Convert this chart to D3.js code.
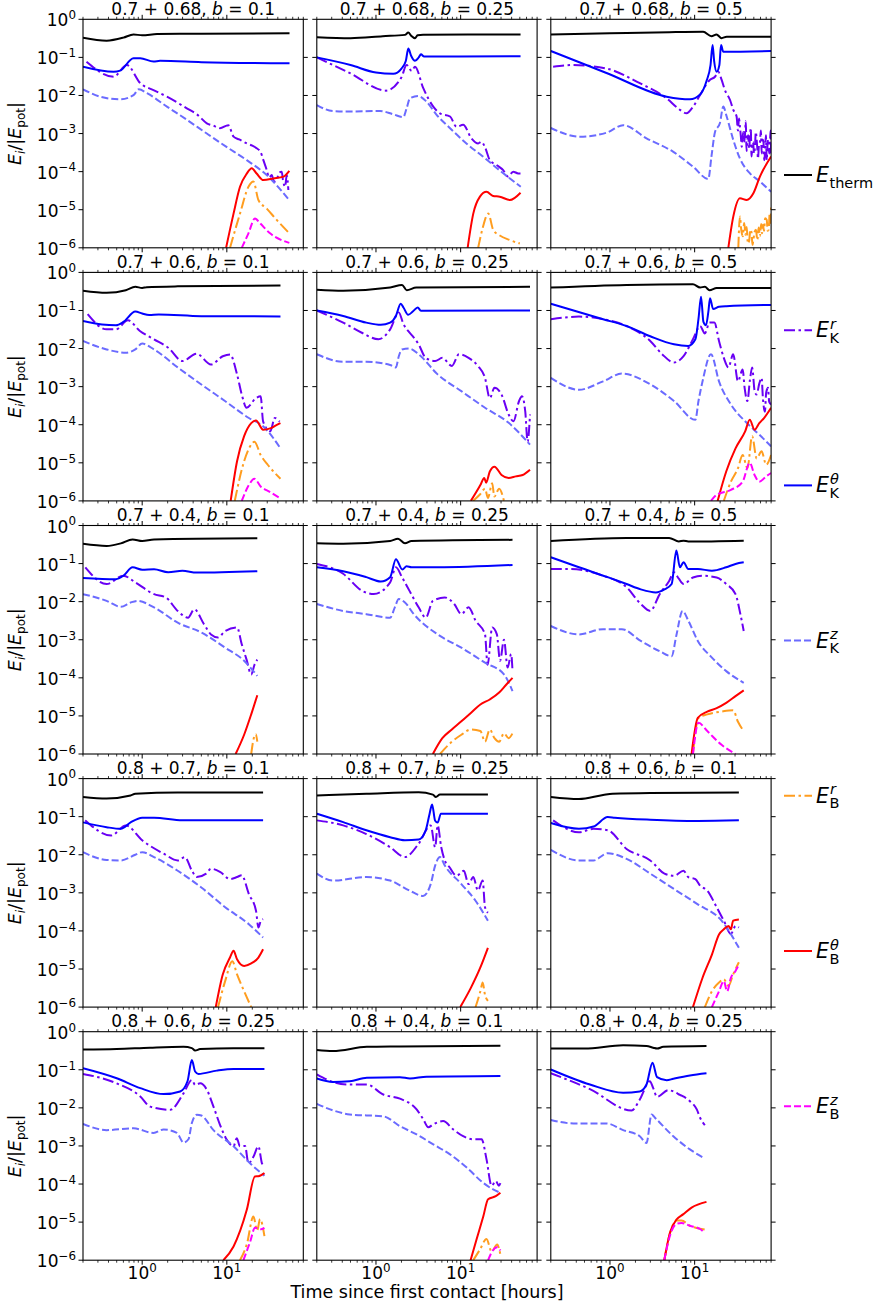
<!DOCTYPE html>
<html>
<head>
<meta charset="utf-8">
<script src="https://cdn.jsdelivr.net/npm/d3@7"></script>
<style>
  body { margin: 0; background: #fff; }
  text { font-family: "DejaVu Sans", sans-serif; fill: #000; }
</style>
</head>
<body>
<svg id="fig" width="879" height="1313"></svg>
<script>
// ---- data: [time in hours, E_i/|E_pot|] ----
const seriesKeys = ["therm", "Kr", "Kth", "Kz", "Br", "Bth", "Bz"];
const panelTitles = [
  ["0.7 + 0.68", "0.1"], ["0.7 + 0.68", "0.25"], ["0.7 + 0.68", "0.5"],
  ["0.7 + 0.6", "0.1"], ["0.7 + 0.6", "0.25"], ["0.7 + 0.6", "0.5"],
  ["0.7 + 0.4", "0.1"], ["0.7 + 0.4", "0.25"], ["0.7 + 0.4", "0.5"],
  ["0.8 + 0.7", "0.1"], ["0.8 + 0.7", "0.25"], ["0.8 + 0.6", "0.1"],
  ["0.8 + 0.6", "0.25"], ["0.8 + 0.4", "0.1"], ["0.8 + 0.4", "0.25"]
];
const xTicks = [1, 10];
const yTicks = [1, 1e-1, 1e-2, 1e-3, 1e-4, 1e-5, 1e-6];

// 0.7 + 0.68, b = 0.1
const p11 = {
  therm: [[0.2,0.33],[0.38,0.275],[0.6,0.33],[0.79,0.40],[1.0,0.38],[1.5,0.41],[5,0.42],[55,0.43]],
  Kr: [[0.22,0.077],[0.46,0.031],[0.66,0.063],[0.95,0.021],[1.36,0.0138],[1.96,0.0093],[3.37,0.0046],[4.5,0.0031],[5.8,0.00186],[7,0.0016],[8.3,0.00138],[10.4,0.00166],[12,0.00083],[14,0.0007],[17.2,0.00055],[20,0.00048],[22.5,0.00041],[25,0.00033],[27,0.0002],[29.6,0.00011],[31.5,0.00007],[33.9,0.000081],[36,0.000055],[38.8,0.00006],[41,0.00009],[44.5,0.0001],[46,0.00006],[48.7,0.00004],[51,0.00008],[53.3,0.000033]],
  Kth: [[0.2,0.057],[0.46,0.042],[0.55,0.045],[0.79,0.095],[0.95,0.095],[1.36,0.078],[1.63,0.081],[5,0.075],[55,0.07]],
  Kz: [[0.2,0.0145],[0.32,0.0093],[0.55,0.0079],[0.79,0.0102],[0.91,0.0145],[1.14,0.0115],[1.96,0.0051],[3.37,0.0023],[5.8,0.001],[9.7,0.00046],[17.2,0.0002],[29.6,0.000081],[54.7,0.0000178]],
  Br: [[10.9,1e-6],[14.3,7.9e-6],[18,4e-5],[20.6,5.5e-5],[23.6,1.8e-5],[29.6,1.07e-5],[38.8,5.4e-6],[54.7,2.4e-6]],
  Bth: [[9.8,1e-6],[12,7.9e-6],[14.3,4e-5],[17.2,8.9e-5],[19.7,1.23e-4],[22.5,8.9e-5],[27,6e-5],[35.5,6.6e-5],[46.6,7.4e-5],[54.7,1.05e-4]],
  Bz: [[15,1e-6],[18,2.4e-6],[21.5,5.9e-6],[24.7,4.4e-6],[32.4,2.4e-6],[54.7,1.35e-6]]
};
// 0.7 + 0.68, b = 0.25
const p12 = {
  therm: [[0.2,0.34],[0.5,0.32],[1.2,0.36],[2.2,0.39],[2.41,0.45],[2.6,0.37],[2.89,0.32],[3.1,0.38],[3.6,0.39],[51,0.40]],
  Kr: [[0.2,0.1],[0.5,0.038],[1.31,0.0134],[2.0,0.03],[2.3,0.063],[2.64,0.044],[2.89,0.057],[3.62,0.0155],[4.75,0.0051],[5.7,0.0034],[7.5,0.0028],[8.95,0.0015],[10.7,0.0017],[13.4,0.00075],[16.1,0.00055],[17.6,0.00061],[19.3,0.00045],[22.1,0.0002],[26.5,0.00015],[31.8,0.00011],[36.4,0.000074],[41.7,0.0001],[47.7,0.00009],[51.3,0.00009]],
  Kth: [[0.2,0.1],[0.5,0.063],[1.0,0.04],[1.6,0.037],[2.0,0.051],[2.25,0.08],[2.41,0.17],[2.6,0.11],[2.89,0.081],[3.2,0.1],[3.4,0.12],[3.7,0.105],[51,0.107]],
  Kz: [[0.2,0.0056],[0.31,0.0039],[0.49,0.0038],[1.12,0.0039],[1.6,0.0032],[2.1,0.0027],[2.3,0.0046],[2.52,0.0084],[3.15,0.0097],[3.95,0.0069],[5.2,0.0031],[7.5,0.00138],[11.7,0.00055],[18.3,0.00025],[28.6,0.00011],[51.3,0.00004]],
  Br: [[16.1,1e-6],[18,3e-6],[21.2,7.9e-6],[24.2,3e-6],[29,2.1e-6],[38,1.6e-6],[50,1.3e-6]],
  Bth: [[12.1,1e-6],[14.1,7.9e-6],[16.9,2.2e-5],[20.2,2.95e-5],[24.2,2.3e-5],[29,2.2e-5],[38.1,1.8e-5],[51,2.8e-5]],
  Bz: []
};
// 0.7 + 0.68, b = 0.5
const p13 = {
  therm: [[0.2,0.40],[1,0.43],[5,0.46],[12.6,0.47],[15.8,0.36],[18.1,0.40],[20.8,0.32],[23.9,0.35],[80,0.35]],
  Kr: [[0.213,0.057],[0.367,0.063],[0.91,0.051],[2.25,0.021],[4.67,0.0084],[6.7,0.0042],[8.0,0.0034],[9.6,0.0051],[11.6,0.0103],[15.2,0.026],[17.4,0.031],[19.0,0.042],[20.8,0.026],[22.8,0.0138],[26.2,0.0076],[28.6,0.0042],[31.3,0.0028],[32.5,0.0012],[33.4,0.0025],[34.3,0.0015],[35.2,0.0008],[36,0.00045],[37.5,0.0011],[38.4,0.0006],[39.4,0.001],[40.2,0.0021],[41,0.00035],[42,0.0007],[43,0.0009],[44,0.0004],[45,0.0008],[46,0.0014],[47,0.00025],[48,0.0005],[49,0.0006],[50.3,0.0003],[51.6,0.00045],[52.8,0.0011],[54,0.0007],[55,0.0004],[56,0.00022],[57.5,0.0005],[59,0.00058],[60.5,0.0012],[62,0.0003],[63.5,0.0007],[65,0.0006],[66.5,0.0002],[67.9,0.00035],[69.5,0.0009],[71,0.0002],[72.5,0.0005],[74,0.0007],[76,0.0003],[77.8,0.00068],[79,0.0012],[80,0.0003]],
  Kth: [[0.2,0.147],[0.91,0.039],[4.67,0.0093],[8.8,0.0079],[11.6,0.0106],[13.9,0.025],[15.4,0.063],[16.3,0.21],[17.0,0.08],[18.2,0.042],[19.6,0.063],[20.5,0.21],[21.8,0.14],[80,0.147]],
  Kz: [[0.2,0.0014],[0.44,0.00083],[0.91,0.00105],[1.43,0.00166],[2.7,0.00075],[5.6,0.00033],[9.6,0.000134],[14.5,0.000064],[15.8,0.00025],[17.4,0.0011],[19.9,0.0019],[21.8,0.0051],[23.9,0.0028],[28.6,0.00068],[34.3,0.00022],[45,0.00009],[59,0.000055],[80,0.0000295]],
  Br: [[32.8,1e-6],[34.3,6.6e-6],[35.5,3e-6],[37,2e-6],[38.5,4.5e-6],[40,2.2e-6],[41.2,3.5e-6],[42.5,1.3e-6],[44,1.5e-6],[45.5,3e-6],[47,2.5e-6],[48.2,1.2e-6],[49.4,1.6e-6],[51,2.6e-6],[53,3e-6],[55,1.6e-6],[57,3.4e-6],[59,2e-6],[61,4.2e-6],[62.5,2.4e-6],[64,4e-6],[66,2.8e-6],[68,6e-6],[71,5.4e-6],[73,2.8e-6],[75,3e-6],[77,8e-6],[78.5,4.5e-6],[80,1.2e-5]],
  Bth: [[25,1e-6],[28.6,6.6e-6],[34.3,2e-5],[41.2,1.8e-5],[49.4,2.7e-5],[59,7.4e-5],[80,2.5e-4]],
  Bz: []
};
// 0.7 + 0.6, b = 0.1
const p21 = {
  therm: [[0.2,0.33],[0.38,0.29],[0.64,0.34],[0.83,0.42],[1.0,0.39],[1.13,0.41],[2.63,0.43],[43,0.45]],
  Kr: [[0.227,0.08],[0.38,0.032],[0.49,0.032],[0.68,0.055],[0.94,0.029],[1.38,0.0175],[2.03,0.0105],[2.99,0.0047],[4.4,0.0073],[6.5,0.0038],[8.95,0.0063],[10.9,0.007],[13.2,0.0021],[15,0.00062],[17.1,0.00028],[22.1,0.0005],[25.1,0.00056],[26.8,0.000123],[32.5,0.000067],[36.9,0.00015],[42,0.00012]],
  Kth: [[0.2,0.053],[0.335,0.043],[0.49,0.041],[0.6,0.05],[0.83,0.094],[1.0,0.083],[1.21,0.076],[1.57,0.079],[5,0.071],[43,0.07]],
  Kz: [[0.2,0.0158],[0.38,0.0095],[0.64,0.0078],[0.83,0.0095],[1.0,0.0135],[1.38,0.0095],[2.63,0.0032],[5.0,0.00114],[9.5,0.00042],[18.2,0.00015],[26.8,0.000091],[43,0.000024]],
  Br: [[12.4,1e-6],[16,1.1e-5],[19.4,3e-5],[21.2,3.6e-5],[25.1,1.6e-5],[30.4,8.9e-6],[36.9,5.4e-6],[43,3.8e-6]],
  Bth: [[11.1,1e-6],[13.2,1.1e-5],[16,5e-5],[19.4,1.1e-4],[22.1,1.3e-4],[26.8,7.4e-5],[32.5,8e-5],[38,9.6e-5],[43,1.1e-4]],
  Bz: [[15,1e-6],[18.2,2.6e-6],[21.2,3.8e-6],[25.1,2.4e-6],[32.5,1.7e-6],[42,1.2e-6]]
};
// 0.7 + 0.6, b = 0.25
const p22 = {
  therm: [[0.2,0.35],[0.41,0.33],[1.47,0.40],[2.03,0.47],[2.31,0.34],[2.99,0.40],[66,0.42]],
  Kr: [[0.2,0.1],[0.41,0.048],[0.68,0.026],[1.07,0.0175],[1.47,0.032],[1.86,0.089],[2.11,0.044],[2.4,0.029],[2.8,0.0195],[3.19,0.0129],[3.87,0.0057],[5.0,0.0047],[6.08,0.0057],[7.87,0.0035],[9.55,0.0071],[12.4,0.0057],[16,0.0035],[19.4,0.0017],[22.1,0.0005],[25.1,0.00093],[30.4,0.00062],[36.9,0.000186],[42,0.000123],[49,0.00042],[53,0.00056],[58,0.00022],[61.8,0.000036],[66,0.000186]],
  Kth: [[0.2,0.1],[0.41,0.072],[0.77,0.048],[1.14,0.042],[1.47,0.048],[1.72,0.072],[1.96,0.15],[2.11,0.12],[2.4,0.077],[2.74,0.095],[3.11,0.12],[3.4,0.098],[66,0.1]],
  Kz: [[0.2,0.0071],[0.41,0.0045],[0.77,0.0045],[1.47,0.0037],[1.72,0.0032],[1.86,0.0063],[2.03,0.0095],[2.48,0.01],[3.19,0.0071],[5.35,0.0021],[10.2,0.00076],[19.4,0.00028],[36.9,0.000112],[66,0.00003]],
  Br: [[14,1e-6],[17,1.5e-6],[19.4,2.1e-6],[21,1.2e-6],[23.6,2.9e-6],[25,1.3e-6],[28.5,2.1e-6],[32.5,1e-6]],
  Bth: [[13.2,1e-6],[17.1,2.6e-6],[19,4e-6],[20,3e-6],[22.1,5.9e-6],[25.1,7.9e-6],[30.4,4.8e-6],[36.9,4e-6],[44.8,4.4e-6],[54,4.8e-6],[66,6.6e-6]],
  Bz: []
};
// 0.7 + 0.6, b = 0.5
const p23 = {
  therm: [[0.2,0.40],[1.57,0.47],[9.55,0.49],[11.6,0.40],[13.2,0.42],[15,0.34],[18.2,0.39],[80,0.39]],
  Kr: [[0.2,0.059],[0.43,0.069],[0.83,0.059],[1.57,0.039],[2.99,0.0158],[4.13,0.0071],[5.7,0.0043],[7.4,0.0063],[9.55,0.0175],[11.6,0.039],[13.2,0.025],[15,0.048],[17.1,0.048],[19.4,0.0158],[22.1,0.0057],[25.1,0.0032],[28.5,0.0071],[32.5,0.00138],[36.9,0.0028],[39,0.0009],[42,0.00042],[45,0.0015],[47.8,0.0032],[51,0.0008],[54,0.00062],[58,0.0012],[61.8,0.0017],[64,0.0005],[67.6,0.00022],[70,0.0007],[73.5,0.00093],[76,0.0004],[80,0.00034]],
  Kth: [[0.2,0.15],[0.83,0.059],[1.57,0.039],[2.99,0.021],[5.7,0.0129],[8.4,0.0117],[10.2,0.0175],[11.1,0.06],[11.9,0.23],[12.7,0.05],[13.6,0.041],[14.5,0.09],[15.2,0.21],[16.5,0.11],[19.4,0.125],[23.6,0.13],[80,0.14]],
  Kz: [[0.2,0.0017],[0.43,0.00083],[0.83,0.00138],[1.38,0.0022],[2.99,0.00115],[5.7,0.00042],[10.2,0.000135],[11.1,0.00042],[12.4,0.00138],[15.6,0.0071],[19.4,0.00138],[26.8,0.00034],[39.5,0.000123],[58,0.000055],[80,0.000027]],
  Br: [[22.1,1e-6],[26.8,3.2e-6],[32.5,7.2e-6],[36.9,1.6e-5],[42,7.2e-6],[47.8,5e-5],[54,1.3e-5],[61.8,2e-5],[70,8.9e-6],[80,1.6e-5]],
  Bth: [[18.7,1e-6],[23.6,5.9e-6],[30.4,2.4e-5],[39.5,6.7e-5],[44.8,1.35e-4],[51,7.4e-5],[58,1.1e-4],[66,1.5e-4],[80,2.8e-4]],
  Bz: [[15.6,1e-6],[18.2,1.45e-6],[26.8,1.95e-6],[36.9,3.2e-6],[44.8,1e-5],[51,4.8e-6],[58,3.2e-6],[70,4.4e-6],[80,5.4e-6]]
};
// 0.7 + 0.4, b = 0.1
const p31 = {
  therm: [[0.2,0.33],[0.38,0.29],[0.56,0.34],[0.77,0.43],[1.0,0.39],[1.38,0.43],[22.9,0.46]],
  Kr: [[0.213,0.08],[0.38,0.029],[0.6,0.048],[0.83,0.032],[1.38,0.0158],[1.9,0.0129],[2.63,0.0057],[3.48,0.0038],[4.13,0.0063],[5.35,0.0026],[6.5,0.00138],[7.87,0.00115],[9.55,0.0017],[13.2,0.0021],[15,0.00076],[17.1,0.0003],[19.4,0.000123],[21.2,0.00022],[22.9,0.0003]],
  Kth: [[0.2,0.042],[0.49,0.039],[0.6,0.048],[0.77,0.08],[1.0,0.069],[1.38,0.071],[2.03,0.059],[2.99,0.065],[4.4,0.058],[22.9,0.063]],
  Kz: [[0.2,0.0158],[0.38,0.0105],[0.56,0.0073],[0.73,0.0095],[0.88,0.0105],[1.38,0.0071],[2.63,0.0028],[5.0,0.00155],[9.55,0.00062],[16,0.00028],[22.9,0.000112]],
  Br: [[19.4,1e-6],[20.8,2.6e-6],[22,3.3e-6],[22.9,2.1e-6]],
  Bth: [[12.7,1e-6],[16,3.2e-6],[19.4,1.1e-5],[22.9,3.5e-5]],
  Bz: []
};
// 0.7 + 0.4, b = 0.25
const p32 = {
  therm: [[0.2,0.34],[0.41,0.33],[1.47,0.39],[1.82,0.45],[2.2,0.34],[2.63,0.39],[41,0.42]],
  Kr: [[0.2,0.098],[0.41,0.054],[0.68,0.0195],[0.94,0.0158],[1.47,0.032],[1.72,0.08],[2.03,0.044],[2.48,0.0195],[3.19,0.0071],[3.87,0.0038],[4.7,0.0105],[6.5,0.0129],[8.4,0.0087],[10.2,0.0047],[12.4,0.0071],[15,0.0032],[19.4,0.00138],[20.8,0.00022],[23.6,0.0021],[26.8,0.00138],[29.2,0.00028],[32.5,0.001],[35.9,0.000186],[39.5,0.00042],[41,0.00015]],
  Kth: [[0.2,0.08],[0.41,0.063],[0.77,0.044],[1.14,0.034],[1.47,0.044],[1.72,0.13],[2.05,0.07],[2.3,0.085],[2.63,0.08],[5.35,0.08],[41,0.092]],
  Kz: [[0.2,0.0087],[0.41,0.0057],[0.77,0.0047],[1.47,0.0038],[1.67,0.0071],[1.86,0.0117],[2.2,0.0095],[2.8,0.0047],[5.35,0.00138],[10.2,0.00062],[19.4,0.00025],[32.5,0.000123],[41,0.000045]],
  Br: [[5.7,1e-6],[7.87,2.1e-6],[10.2,3.2e-6],[13.2,4.4e-6],[17.1,4e-6],[19.4,2.1e-6],[22.1,4.4e-6],[25.1,2.6e-6],[28.5,2.1e-6],[32.5,3.5e-6],[36.9,2.6e-6],[41,3.5e-6]],
  Bth: [[4.7,1e-6],[6.08,2.6e-6],[7.87,4.4e-6],[10.2,7.2e-6],[13.2,1.2e-5],[17.1,2e-5],[22.1,2.7e-5],[28.5,4.1e-5],[34.7,6.7e-5],[41,1e-4]],
  Bz: []
};
// 0.7 + 0.4, b = 0.5
const p33 = {
  therm: [[0.2,0.39],[1.57,0.47],[5,0.47],[6.5,0.38],[7.4,0.40],[8.4,0.38],[38,0.40]],
  Kr: [[0.2,0.072],[0.335,0.072],[0.83,0.048],[1.57,0.024],[2.31,0.0087],[2.99,0.0057],[3.87,0.0158],[5,0.035],[5.7,0.059],[6.5,0.04],[7.4,0.029],[9.55,0.043],[12.4,0.048],[18.2,0.043],[23.6,0.029],[30.4,0.0158],[34.7,0.0047],[38,0.0017]],
  Kth: [[0.2,0.147],[0.43,0.08],[0.94,0.044],[1.57,0.029],[2.31,0.021],[3.48,0.0175],[4.4,0.021],[5.35,0.029],[6.08,0.22],[6.7,0.08],[7.4,0.108],[8.4,0.072],[10.9,0.072],[16,0.065],[23.6,0.08],[30.4,0.098],[38,0.108]],
  Kz: [[0.2,0.0023],[0.43,0.00138],[0.83,0.0019],[1.38,0.0019],[2.31,0.00093],[3.87,0.0005],[5.35,0.00037],[6.08,0.0013],[7.2,0.0057],[8.4,0.0032],[10.9,0.00093],[16,0.00034],[23.6,0.00015],[38,0.000074]],
  Br: [[9.55,1e-6],[11.1,8.9e-6],[14.1,1.1e-5],[20.8,1.3e-5],[28.5,1.4e-5],[32.5,7e-6],[38,4e-6]],
  Bth: [[9.2,1e-6],[10.9,8.9e-6],[14.1,1.3e-5],[18.2,1.6e-5],[23.6,2.2e-5],[30.4,3.3e-5],[38,4.7e-5]],
  Bz: [[9.55,1e-6],[11.1,6.6e-6],[14.1,4e-6],[20.8,1.74e-6],[30.4,1e-6]]
};
// 0.8 + 0.7, b = 0.1
const p41 = {
  therm: [[0.2,0.33],[0.38,0.30],[0.73,0.36],[0.83,0.40],[2.63,0.43],[26.8,0.43]],
  Kr: [[0.213,0.08],[0.43,0.032],[0.64,0.059],[1.0,0.024],[1.82,0.0105],[2.63,0.0071],[3.19,0.0087],[3.87,0.0038],[4.4,0.0026],[5.7,0.0032],[6.5,0.0043],[8.4,0.0035],[10.9,0.0023],[13.2,0.0026],[15,0.0029],[18.2,0.00093],[22.1,0.00034],[23.6,0.000123],[25.1,0.00018],[26.8,0.000204]],
  Kth: [[0.2,0.071],[0.38,0.053],[0.56,0.048],[0.73,0.071],[1.0,0.094],[1.38,0.094],[2.99,0.08],[26.8,0.08]],
  Kz: [[0.2,0.0117],[0.38,0.0073],[0.56,0.0071],[0.83,0.01],[1.0,0.0117],[1.38,0.0087],[2.63,0.0038],[5,0.00138],[9.55,0.00042],[18.2,0.00015],[26.8,0.000067]],
  Br: [[7.87,1e-6],[9.55,4.8e-6],[11.6,1.6e-5],[13.2,7.2e-6],[16,2.6e-6],[19.4,1e-6]],
  Bth: [[7.4,1e-6],[8.95,7.2e-6],[10.9,2e-5],[12,3e-5],[13.2,1.8e-5],[16,1.2e-5],[19.4,1.4e-5],[23.6,2e-5],[26.8,3.3e-5]],
  Bz: []
};
// 0.8 + 0.7, b = 0.25
const p42 = {
  therm: [[0.2,0.36],[0.77,0.40],[3.19,0.44],[4.7,0.38],[5.1,0.33],[5.7,0.38],[21,0.38]],
  Kr: [[0.2,0.08],[0.41,0.059],[0.77,0.035],[1.47,0.0158],[2.2,0.0087],[3.19,0.0195],[4.43,0.059],[5.0,0.0158],[5.35,0.059],[5.9,0.0158],[6.5,0.0071],[7.4,0.0047],[8.95,0.0028],[10.9,0.0038],[12.4,0.0017],[14.1,0.0026],[16,0.00115],[18.2,0.0021],[19.4,0.00042],[21,0.0003]],
  Kth: [[0.2,0.12],[0.41,0.072],[0.77,0.044],[1.47,0.029],[2.2,0.024],[3.19,0.025],[3.87,0.044],[4.3,0.12],[4.6,0.21],[5.0,0.078],[5.35,0.07],[5.85,0.12],[21,0.12]],
  Kz: [[0.2,0.0032],[0.31,0.0021],[0.77,0.0026],[1.47,0.0021],[2.48,0.00115],[3.6,0.00083],[4.43,0.0017],[5.0,0.0052],[5.7,0.0087],[6.5,0.0052],[10.2,0.0017],[15,0.00062],[21,0.000186]],
  Br: [[15,1e-6],[17.1,2.6e-6],[18.2,4.4e-6],[19.4,2.1e-6],[21,1.45e-6]],
  Bth: [[9.9,1e-6],[13.2,3.2e-6],[17.1,1.1e-5],[21,3.6e-5]],
  Bz: []
};
// 0.8 + 0.6, b = 0.1
const p43 = {
  therm: [[0.2,0.33],[0.43,0.29],[0.83,0.37],[1.07,0.40],[2.99,0.42],[33.3,0.43]],
  Kr: [[0.213,0.08],[0.43,0.039],[0.64,0.048],[0.94,0.044],[1.57,0.0142],[2.99,0.0071],[4.4,0.0032],[5.7,0.0028],[7.4,0.0038],[8.4,0.0026],[10.2,0.0023],[11.6,0.00155],[14.1,0.00115],[18.2,0.00042],[22.1,0.000186],[26.8,0.000083],[30.4,0.000135],[33.3,0.000123]],
  Kth: [[0.2,0.068],[0.43,0.048],[0.64,0.055],[0.94,0.098],[1.14,0.094],[2.99,0.083],[10.9,0.077],[33.3,0.08]],
  Kz: [[0.2,0.0135],[0.43,0.0071],[0.64,0.0071],[0.94,0.011],[1.57,0.0078],[2.99,0.0032],[5.7,0.00126],[10.9,0.0005],[20.8,0.000186],[33.3,0.000036]],
  Br: [[13.2,1e-6],[16,2.6e-6],[19.4,4.4e-6],[22.1,5.4e-6],[25.1,3.6e-6],[28.5,7.2e-6],[33.3,1.5e-5]],
  Bth: [[9.55,1e-6],[12.4,5.9e-6],[16,2.4e-5],[19.4,8.1e-5],[22.1,1.1e-4],[25.1,1.35e-4],[26.8,1.1e-4],[28.5,1.86e-4],[33.3,2e-4]],
  Bz: [[16,1e-6],[19.4,2.6e-6],[22.1,4.8e-6],[24.2,2.6e-6],[26.8,5.9e-6],[30.4,8.9e-6],[33.3,1.3e-5]]
};
// 0.8 + 0.6, b = 0.25
const p51 = {
  therm: [[0.2,0.34],[0.5,0.35],[1.24,0.38],[3.08,0.40],[3.86,0.37],[4.22,0.32],[4.84,0.35],[12,0.37],[27.8,0.37]],
  Kr: [[0.2,0.078],[0.5,0.044],[0.95,0.02],[1.24,0.0108],[2.14,0.0089],[3.08,0.024],[3.86,0.054],[4.22,0.04],[4.84,0.044],[5.8,0.03],[6.95,0.0108],[8.3,0.0036],[10,0.00145],[12,0.00098],[13.1,0.0016],[14.3,0.00098],[16.4,0.001],[18,0.00035],[20.6,0.00052],[23.6,0.00098],[26,0.00035],[27.8,0.00029]],
  Kth: [[0.2,0.11],[0.5,0.06],[0.95,0.033],[1.79,0.023],[2.81,0.027],[3.43,0.05],[3.86,0.18],[4.22,0.09],[4.62,0.078],[7.6,0.095],[12,0.105],[27.8,0.105]],
  Kz: [[0.2,0.0038],[0.38,0.0026],[0.79,0.0029],[1.36,0.0022],[1.79,0.0027],[2.57,0.0022],[3.08,0.00123],[3.52,0.0015],[3.86,0.004],[4.42,0.0066],[5.0,0.0063],[6.95,0.0026],[12,0.00098],[18.8,0.00035],[27.8,0.000166]],
  Br: [[14.3,1e-6],[17.2,2.6e-6],[20.6,1.4e-5],[22.8,6e-6],[24.7,1.2e-5],[27.8,4.3e-6]],
  Bth: [[9.1,1e-6],[12,2.3e-6],[17.2,2.1e-5],[21.5,1.58e-4],[23.6,1.6e-4],[27.8,1.95e-4]],
  Bz: [[15.7,1e-6],[18.8,3e-6],[21.5,7.1e-6],[25.2,6.5e-6],[27.8,7.1e-6]]
};
// 0.8 + 0.4, b = 0.1
const p52 = {
  therm: [[0.2,0.33],[0.31,0.31],[0.78,0.40],[1.92,0.41],[29.5,0.43]],
  Kr: [[0.2,0.076],[0.31,0.048],[0.49,0.041],[0.78,0.041],[1.22,0.0224],[1.92,0.0174],[3.02,0.0091],[3.62,0.005],[4.15,0.0031],[4.75,0.0037],[6.2,0.0045],[8.2,0.0027],[10.7,0.0018],[14.1,0.0015],[17.7,0.0015],[20.2,0.00045],[23.2,0.00009],[26,0.00012],[28.3,0.00009],[29.5,0.000105]],
  Kth: [[0.2,0.059],[0.31,0.048],[0.49,0.05],[0.78,0.062],[1.92,0.064],[2.52,0.059],[3.96,0.066],[29.5,0.069]],
  Kz: [[0.2,0.0128],[0.31,0.0086],[0.49,0.0067],[1.22,0.006],[1.92,0.0033],[3.02,0.002],[4.75,0.0011],[7.5,0.0006],[11.8,0.00027],[18.5,0.000107],[24.2,0.000072],[29.5,0.000059]],
  Br: [[14.1,1e-6],[16.9,1.9e-6],[20.2,3.6e-6],[23.2,1.7e-6],[27,2.6e-6],[29.5,1.4e-6]],
  Bth: [[13.1,1e-6],[15.4,3.5e-6],[18.5,1.4e-5],[21.1,4e-5],[26,4.8e-5],[29.5,5.9e-5]],
  Bz: [[21.1,1e-6],[23.2,1.6e-6],[27,2.2e-6],[29.5,1.8e-6]]
};
// 0.8 + 0.4, b = 0.25
const p53 = {
  therm: [[0.2,0.36],[0.5,0.36],[1.43,0.44],[2.7,0.42],[3.24,0.38],[3.6,0.36],[4.26,0.40],[13.8,0.42]],
  Kr: [[0.2,0.081],[0.58,0.031],[1.8,0.0085],[2.25,0.0166],[2.96,0.05],[3.24,0.033],[3.6,0.0195],[4.88,0.029],[6.7,0.022],[8.8,0.015],[10.6,0.0091],[11.6,0.0055],[13.2,0.0035]],
  Kth: [[0.2,0.102],[0.58,0.041],[1.43,0.025],[2.25,0.027],[2.7,0.041],[3.18,0.154],[3.6,0.064],[4.67,0.053],[5.6,0.058],[8.8,0.071],[13.8,0.081]],
  Kz: [[0.2,0.0048],[0.37,0.0039],[0.91,0.0039],[1.43,0.0026],[2.25,0.0018],[2.7,0.0012],[3.1,0.0067],[3.4,0.0055],[5.6,0.0018],[8.8,0.00081],[13.2,0.00047]],
  Br: [[4.38,1e-6],[5.1,5e-6],[6.1,1.1e-5],[7.0,1.1e-5],[8.8,8e-6],[10.6,7e-6],[13.2,6.4e-6]],
  Bth: [[4.38,1e-6],[5.1,5.2e-6],[6.1,1.17e-5],[7.3,1.6e-5],[9.2,2.4e-5],[13.8,3.4e-5]],
  Bz: [[4.38,1e-6],[5.2,5e-6],[6.1,9e-6],[7.0,9.5e-6],[8.8,8e-6],[11.6,6.6e-6],[13.2,5.2e-6]]
};
const panels = [p11, p12, p13, p21, p22, p23, p31, p32, p33, p41, p42, p43, p51, p52, p53];

// ---- layout ----
const svg = d3.select("#fig");
const W = 220.3, H = 228.5;
const colX = [83, 316.8, 550.8];
const rowY = [19.3, 272.4, 525.5, 778.6, 1031.7];

const x = d3.scaleLog().domain([0.2, 80]).range([0, W]);
const y = d3.scaleLog().domain([1e-6, 1]).range([H, 0]);

const styles = {
  therm: { color: "#000000", dash: null },
  Kr:    { color: "#6a00f4", dash: "11,3.5,2.5,3.5" },
  Kth:   { color: "#0000ff", dash: null },
  Kz:    { color: "#6b6bff", dash: "7,3" },
  Br:    { color: "#ff9d1f", dash: "11,3.5,2.5,3.5" },
  Bth:   { color: "#ff0000", dash: null },
  Bz:    { color: "#ff00ff", dash: "7,3" }
};

// smooth the hand-read polylines a little, without overshoot
const line = d3.line().curve(d3.curveMonotoneX).x(d => x(d[0])).y(d => y(d[1]));
const minorX = [];
[0.1, 1, 10].forEach(dec => { for (let k = 2; k <= 9; k++) { const v = k * dec; if (v >= 0.2 && v <= 80) minorX.push(v); } });

function supLabel(g, base, exp, xx, yy, anchor, size) {
  const t = g.append("text").attr("x", xx).attr("y", yy)
    .attr("text-anchor", anchor).style("font-size", size + "px");
  t.append("tspan").text(base);
  t.append("tspan").attr("dy", -0.42 * size).style("font-size", (0.7 * size) + "px").text(exp);
  return t;
}

panels.forEach((p, i) => {
  const r = Math.floor(i / 3), c = i % 3;
  const g = svg.append("g").attr("transform", `translate(${colX[c]},${rowY[r]})`);

  g.append("clipPath").attr("id", "clip" + i)
    .append("rect").attr("width", W).attr("height", H);

  const lines = g.append("g").attr("clip-path", `url(#clip${i})`);
  seriesKeys.forEach(k => {
    if (!p[k] || p[k].length < 2) return;
    lines.append("path").datum(p[k])
      .attr("d", line)
      .attr("fill", "none")
      .attr("stroke", styles[k].color)
      .attr("stroke-width", 2)
      .attr("stroke-linejoin", "round")
      .attr("stroke-dasharray", styles[k].dash);
  });

  // ticks on all four sides, pointing out
  const tk = g.append("g").attr("stroke", "#000").attr("stroke-width", 1);
  yTicks.forEach(v => {
    tk.append("line").attr("x1", 0).attr("x2", -4.5).attr("y1", y(v)).attr("y2", y(v));
    tk.append("line").attr("x1", W).attr("x2", W + 4.5).attr("y1", y(v)).attr("y2", y(v));
  });
  xTicks.forEach(v => {
    tk.append("line").attr("x1", x(v)).attr("x2", x(v)).attr("y1", H).attr("y2", H + 4.5);
    tk.append("line").attr("x1", x(v)).attr("x2", x(v)).attr("y1", 0).attr("y2", -4.5);
  });
  minorX.forEach(v => {
    tk.append("line").attr("x1", x(v)).attr("x2", x(v)).attr("y1", H).attr("y2", H + 2.5).attr("stroke-width", 0.8);
    tk.append("line").attr("x1", x(v)).attr("x2", x(v)).attr("y1", 0).attr("y2", -2.5).attr("stroke-width", 0.8);
  });

  g.append("rect").attr("width", W).attr("height", H)
    .attr("fill", "none").attr("stroke", "#000").attr("stroke-width", 1.1);

  // title
  const tt = g.append("text").attr("x", W / 2).attr("y", -4.5)
    .attr("text-anchor", "middle").style("font-size", "17px");
  tt.append("tspan").text(panelTitles[i][0] + ", ");
  tt.append("tspan").style("font-style", "italic").text("b");
  tt.append("tspan").text(" = " + panelTitles[i][1]);

  if (c === 0) {
    yTicks.forEach(v => {
      const e = Math.round(Math.log10(v));
      supLabel(g, "10", e === 0 ? "0" : "\u2212" + (-e), -7, y(v) + 7, "end", 17);
    });
    const yl = g.append("text")
      .attr("transform", `translate(-62,${H / 2}) rotate(-90)`)
      .attr("text-anchor", "middle").style("font-size", "17.5px");
    yl.append("tspan").style("font-style", "italic").text("E");
    yl.append("tspan").style("font-style", "italic").style("font-size", "12px").attr("dy", 4).text("i");
    yl.append("tspan").attr("dy", -4).text("/|");
    yl.append("tspan").style("font-style", "italic").text("E");
    yl.append("tspan").style("font-size", "12px").attr("dy", 4).text("pot");
    yl.append("tspan").attr("dy", -4).text("|");
  }
  if (r === 4) {
    xTicks.forEach(v => {
      const e = Math.round(Math.log10(v));
      supLabel(g, "10", String(e), x(v), H + 19, "middle", 17);
    });
  }
});

// x label
svg.append("text").attr("x", 427).attr("y", 1298)
  .attr("text-anchor", "middle").style("font-size", "17.5px")
  .text("Time since first contact [hours]");

// ---- legend ----
const legendItems = [
  { key: "therm", sub: "therm", sup: null },
  { key: "Kr", sub: "K", sup: "r" },
  { key: "Kth", sub: "K", sup: "\u03b8" },
  { key: "Kz", sub: "K", sup: "z" },
  { key: "Br", sub: "B", sup: "r" },
  { key: "Bth", sub: "B", sup: "\u03b8" },
  { key: "Bz", sub: "B", sup: "z" }
];
const lg = svg.append("g");
legendItems.forEach((it, j) => {
  const yy = 175 + j * 155.2;
  lg.append("line").attr("x1", 784).attr("x2", 812).attr("y1", yy).attr("y2", yy)
    .attr("stroke", styles[it.key].color).attr("stroke-width", 2)
    .attr("stroke-dasharray", styles[it.key].dash);
  const E = lg.append("text").attr("x", 816).attr("y", yy + 7)
    .style("font-size", "20.5px").style("font-style", "italic").text("E");
  const w = E.node().getComputedTextLength();
  lg.append("text").attr("x", 816 + w + 0.5).attr("y", yy + 12.5)
    .style("font-size", "14.5px").text(it.sub);
  if (it.sup) {
    lg.append("text").attr("x", 816 + w + 1).attr("y", yy - 1.5)
      .style("font-size", "14.5px").style("font-style", "italic").text(it.sup);
  }
});
</script>
</body>
</html>
